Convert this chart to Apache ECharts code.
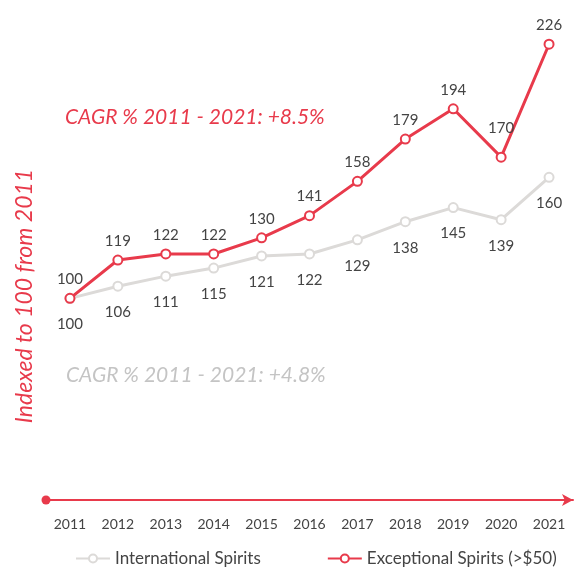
<!DOCTYPE html>
<html>
<head>
<meta charset="utf-8">
<script src="https://cdn.jsdelivr.net/npm/echarts@6/dist/echarts.min.js"></script>
<style>
    html, body { margin: 0; padding: 0; background: #fff; }
    #main { width: 577px; height: 569px; }
</style>
</head>
<body>
<div id="main"></div>
<script>
// 数据
const years = ['2011', '2012', '2013', '2014', '2015', '2016', '2017', '2018', '2019', '2020', '2021']
const international = [100, 106, 111, 115, 121, 122, 129, 138, 145, 139, 160]
const exceptional = [100, 119, 122, 122, 130, 141, 158, 179, 194, 170, 226]

const RED = '#e83a4b'
const GRAY = '#dcdad8'
const TEXT = '#444'
const FONT = 'Lato, "Open Sans", sans-serif'

;(function () {
    const chart = echarts.init(document.getElementById('main'))

    // 2020 的标签离点稍远
    const redData = exceptional.map((v, i) => (i === 9 ? { value: v, label: { distance: 16 } } : v))

    const option = {
        animation: false,
        textStyle: { fontFamily: FONT },
        grid: { left: 46, right: 4, top: 16, bottom: 69 },
        xAxis: {
            type: 'category',
            data: years,
            boundaryGap: true,
            axisLine: {
                symbol: ['circle', 'arrow'],
                symbolSize: [9, 11],
                lineStyle: { color: RED, width: 2 },
            },
            axisTick: { show: false },
            axisLabel: { color: TEXT, fontSize: 14, margin: 17, interval: 0 },
        },
        yAxis: {
            type: 'value',
            min: 0,
            max: 240,
            show: false,
        },
        legend: {
            bottom: -3,
            left: 70,
            width: 505,
            padding: 5,
            itemGap: 66,
            itemWidth: 34,
            itemHeight: 10,
            textStyle: { color: TEXT, fontSize: 17, fontFamily: FONT },
            data: ['International Spirits', 'Exceptional Spirits (>$50)'],
        },
        graphic: [
            {
                type: 'text',
                left: 65,
                top: 107,
                style: {
                    text: 'CAGR % 2011 - 2021: +8.5%',
                    fill: RED,
                    font: 'italic 21px ' + FONT,
                },
            },
            {
                type: 'text',
                left: 66,
                top: 365,
                style: {
                    text: 'CAGR % 2011 - 2021: +4.8%',
                    fill: '#c4c4c4',
                    font: 'italic 21px ' + FONT,
                },
            },
            {
                type: 'text',
                x: 25,
                y: 296,
                rotation: Math.PI / 2,
                style: {
                    text: 'Indexed to 100 from 2011',
                    fill: RED,
                    font: 'italic 23px ' + FONT,
                    align: 'center',
                    verticalAlign: 'middle',
                },
            },
        ],
        series: [
            {
                name: 'International Spirits',
                type: 'line',
                data: international,
                symbol: 'emptyCircle',
                symbolSize: 9,
                lineStyle: { color: GRAY, width: 3 },
                itemStyle: { color: GRAY, borderWidth: 2.5 },
                label: { show: true, position: 'bottom', distance: 13, color: TEXT, fontSize: 15 },
                z: 2,
            },
            {
                name: 'Exceptional Spirits (>$50)',
                type: 'line',
                data: redData,
                symbol: 'emptyCircle',
                symbolSize: 9,
                lineStyle: { color: RED, width: 3 },
                itemStyle: { color: RED, borderWidth: 2.5 },
                label: { show: true, position: 'top', distance: 6, color: TEXT, fontSize: 15 },
                z: 3,
            },
        ],
    }

    chart.setOption(option)
})()
</script>
</body>
</html>
